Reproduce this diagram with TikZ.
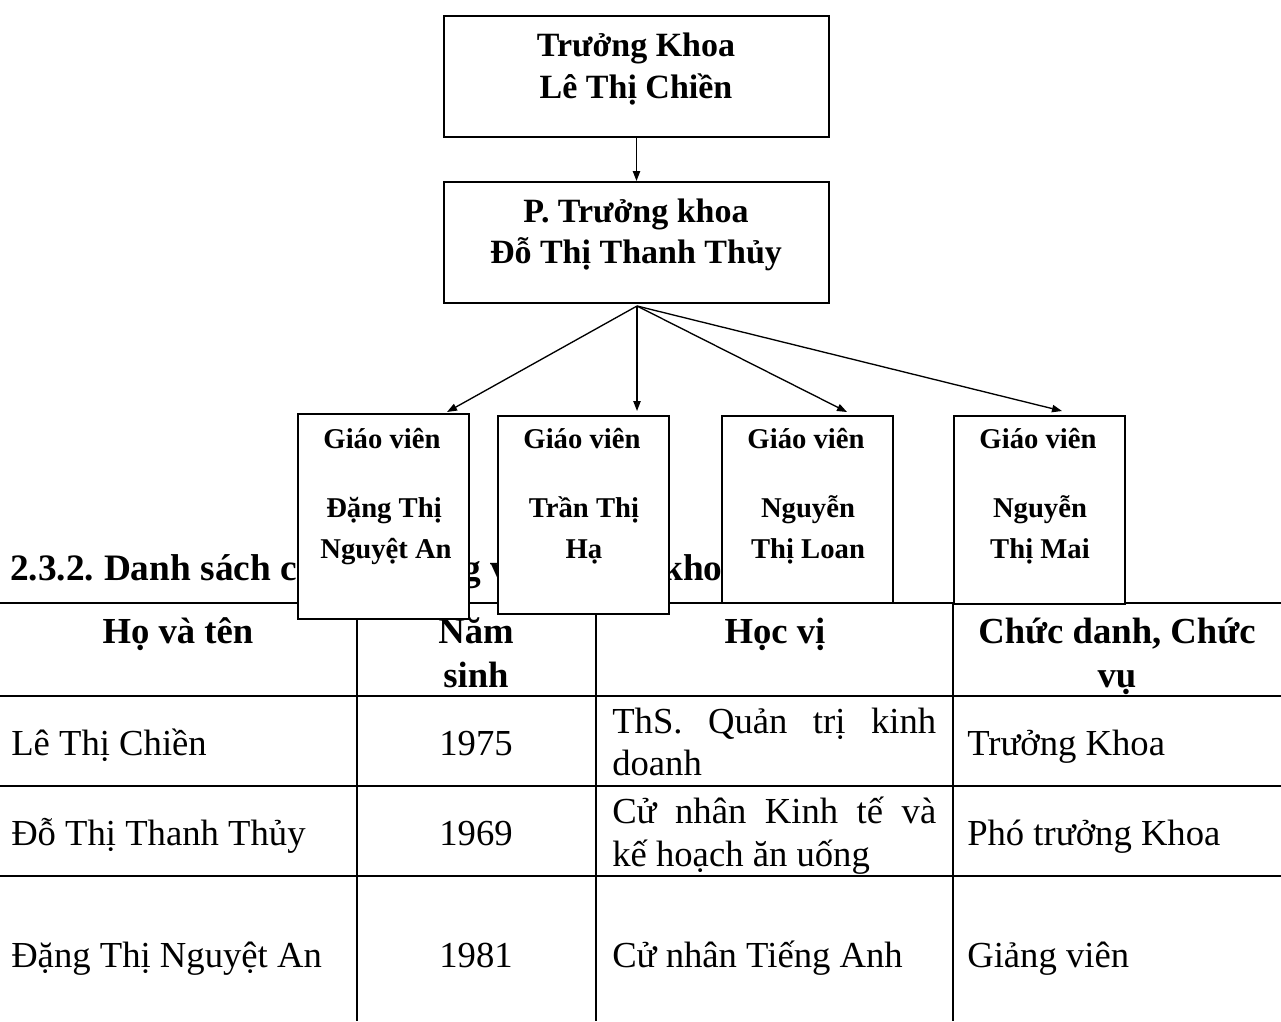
\documentclass[tikz,border=0pt]{standalone}
\usepackage{fontspec}
\setmainfont{Liberation Serif}
\usetikzlibrary{arrows.meta,calc}
\tikzset{
  tline/.style={line width=1.9pt},
  boxsz/.style 2 args={draw=black, line width=1.5pt, fill=white, inner sep=0pt,
    anchor=north west, minimum width={#1*0.75pt}, minimum height={#2*0.75pt}},
  cell/.style={inner sep=0pt, anchor=base west, font=\fontsize{27.5}{31}\selectfont},
  ccell/.style={cell, anchor=base},
  hcell/.style={inner sep=0pt, anchor=base, font=\bfseries\fontsize{27.5}{31}\selectfont},
  orgtxt/.style={inner sep=0pt, anchor=base, font=\bfseries\fontsize{25.5}{30}\selectfont},
  gvtxt/.style={inner sep=0pt, anchor=base, font=\bfseries\fontsize{21.5}{26}\selectfont},
  arr/.style={-{Triangle[length=7.5pt,width=5.5pt]}, line width=1pt},
}
\begin{document}
\begin{tikzpicture}[x=0.75pt,y=-0.75pt]
\useasboundingbox (0,0) rectangle (1281,1021);
% table grid
\draw[tline] (0,603) -- (1281,603);
\draw[tline] (0,696) -- (1281,696);
\draw[tline] (0,786) -- (1281,786);
\draw[tline] (0,876) -- (1281,876);
\draw[tline] (357,603) -- (357,1021);
\draw[tline] (596,603) -- (596,1021);
\draw[tline] (953,603) -- (953,1021);
% heading
\node[inner sep=0pt, anchor=base west, font=\bfseries\fontsize{28}{31}\selectfont] (head) at (10,580) {2.3.2.\kern-2pt{} Danh sách cán bộ giảng viên trong khoa};
% header row
\node[hcell] (h1) at (178,643) {Họ và tên};
\node[hcell] (h2a) at (476,643) {Năm};
\node[hcell] (h2b) at (476,687) {sinh};
\node[hcell] (h3) at (775,643) {Học vị};
\node[hcell] (h4a) at (1117,643) {Chức danh, Chức};
\node[hcell] (h4b) at (1117,687) {vụ};
% row 1
\node[cell] (r1a) at (11,755) {Lê Thị Chiền};
\node[ccell] (r1b) at (476,755) {1975};
\node[cell] (r1c1) at (612,733) {\makebox[243pt][s]{ThS. Quản trị kinh}};
\node[cell] (r1c2) at (612,775) {doanh};
\node[cell] (r1d) at (967,755) {Trưởng Khoa};
% row 2
\node[cell] (r2a) at (11,845) {Đỗ Thị Thanh Thủy};
\node[ccell] (r2b) at (476,845) {1969};
\node[cell] (r2c1) at (612,823) {\makebox[243pt][s]{Cử nhân Kinh tế và}};
\node[cell] (r2c2) at (612,866) {kế hoạch ăn uống};
\node[cell] (r2d) at (967,845) {Phó trưởng Khoa};
% row 3
\node[cell] (r3a) at (11,967) {Đặng Thị Nguyệt An};
\node[ccell] (r3b) at (476,967) {1981};
\node[cell] (r3c) at (612,967) {Cử nhân Tiếng Anh};
\node[cell] (r3d) at (967,967) {Giảng viên};
% org chart boxes
\node[boxsz={385}{121}] (b1) at (443,15) {};
\node[orgtxt] (b1t1) at (636,56) {Trưởng Khoa};
\node[orgtxt] (b1t2) at (636,98) {Lê Thị Chiền};
\node[boxsz={385}{121}] (b2) at (443,181) {};
\node[orgtxt] (b2t1) at (636,222) {P. Trưởng khoa};
\node[orgtxt] (b2t2) at (636,263) {Đỗ Thị Thanh Thủy};
\draw[arr] (b1.south) -- (b2.north);
% teacher boxes
\node[boxsz={171}{205}] (g1) at (297,413) {};
\node[boxsz={171}{198}] (g2) at (497,415) {};
\node[boxsz={171}{187}] (g3) at (721,415) {};
\node[boxsz={171}{188}] (g4) at (953,415) {};
\node[gvtxt] (g1t0) at (382,448) {Giáo viên};
\node[gvtxt] (g1t1) at (384,517) {Đặng Thị};
\node[gvtxt] (g1t2) at (386,558) {Nguyệt An};
\node[gvtxt] (g2t0) at (582,448) {Giáo viên};
\node[gvtxt] (g2t1) at (584,517) {Trần Thị};
\node[gvtxt] (g2t2) at (584,558) {Hạ};
\node[gvtxt] (g3t0) at (806,448) {Giáo viên};
\node[gvtxt] (g3t1) at (808,517) {Nguyễn};
\node[gvtxt] (g3t2) at (808,558) {Thị Loan};
\node[gvtxt] (g4t0) at (1038,448) {Giáo viên};
\node[gvtxt] (g4t1) at (1040,517) {Nguyễn};
\node[gvtxt] (g4t2) at (1040,558) {Thị Mai};
% arrows from P. Truong khoa
\coordinate (hub) at (637,306);
\coordinate (e1) at (447,412);
\coordinate (e2) at (637,411);
\coordinate (e3) at (847,412);
\coordinate (e4) at (1062,411);
\draw[arr] (hub) -- (e1);
\draw[arr] (hub) -- (e2);
\draw[arr] (hub) -- (e3);
\draw[arr] (hub) -- (e4);
\end{tikzpicture}
\end{document}
